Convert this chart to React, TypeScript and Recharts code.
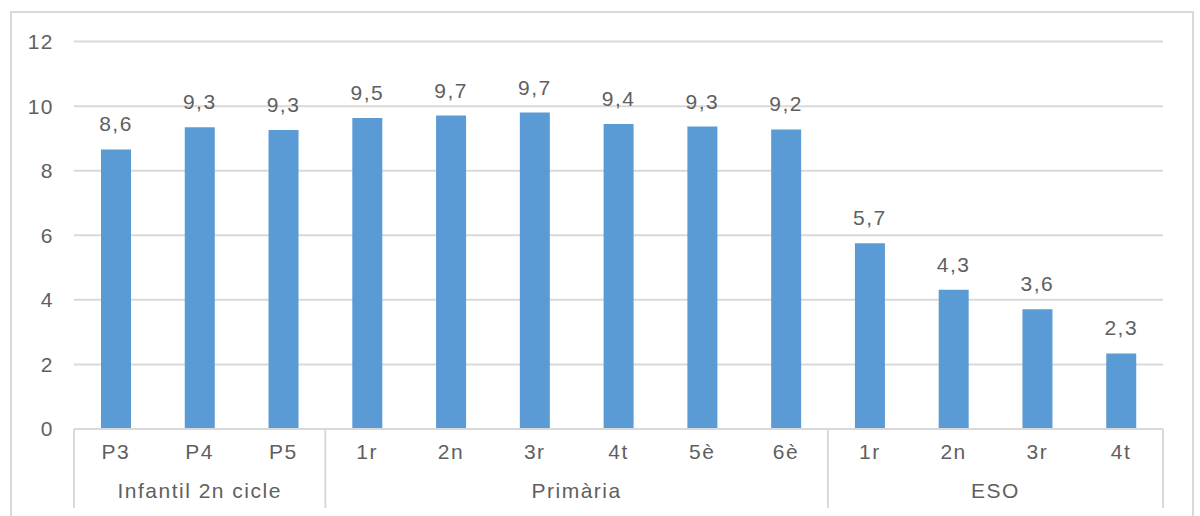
import React from 'react';
import { BarChart, Bar, XAxis, YAxis, CartesianGrid, LabelList } from 'recharts';

const categories = ['P3', 'P4', 'P5', '1r', '2n', '3r', '4t', '5è', '6è', '1r', '2n', '3r', '4t'];
const values = [8.66, 9.35, 9.26, 9.63, 9.71, 9.8, 9.45, 9.37, 9.28, 5.75, 4.31, 3.71, 2.34];
const valueLabels = ['8,6', '9,3', '9,3', '9,5', '9,7', '9,7', '9,4', '9,3', '9,2', '5,7', '4,3', '3,6', '2,3'];
const groups = ['Infantil 2n cicle', 'Primària', 'ESO'];
const groupSizes = [3, 6, 4];
const yTicks = [0, 2, 4, 6, 8, 10, 12];

const data = categories.map((c, i) => ({ key: i, name: c, value: values[i], label: valueLabels[i] }));

const PLOT_LEFT = 74;
const PLOT_RIGHT = 1163;
const BAND = (PLOT_RIGHT - PLOT_LEFT) / categories.length;
const TEXT = '#5f5f5f';
const LINE = '#d9d9d9';
const FONT = '"Liberation Sans", Arial, sans-serif';
const SPACING = 1.5;

// group start indexes
const groupStarts: number[] = [];
groupSizes.reduce((acc, n) => {
  groupStarts.push(acc);
  return acc + n;
}, 0);

const CategoryTick = (props: any) => {
  const { x, y, payload } = props;
  const idx = payload.index;
  const gi = groupStarts.indexOf(idx);
  const left = x - BAND / 2;
  return (
    <g>
      <text
        x={x}
        y={y + 14}
        textAnchor="middle"
        dominantBaseline="central"
        fill={TEXT}
        fontSize={21}
        fontFamily={FONT}
        letterSpacing={SPACING}
      >
        {categories[idx]}
      </text>
      {gi >= 0 && (
        <>
          <line x1={left} x2={left} y1={y - 8} y2={y + 71} stroke={LINE} strokeWidth={2} />
          <text
            x={left + (groupSizes[gi] * BAND) / 2}
            y={y + 53}
            textAnchor="middle"
            dominantBaseline="central"
            fill={TEXT}
            fontSize={21}
            fontFamily={FONT}
            letterSpacing={SPACING}
          >
            {groups[gi]}
          </text>
        </>
      )}
      {idx === categories.length - 1 && (
        <line x1={x + BAND / 2} x2={x + BAND / 2} y1={y - 8} y2={y + 71} stroke={LINE} strokeWidth={2} />
      )}
    </g>
  );
};

export default function App() {
  return (
    <div style={{ position: 'absolute', left: 0, top: 0, width: 1200, height: 516, background: '#fff' }}>
      <div
        style={{
          position: 'absolute',
          left: 10,
          top: 11,
          width: 1184,
          height: 520,
          border: `2px solid ${LINE}`,
          boxSizing: 'border-box',
        }}
      />
      <BarChart
        width={1200}
        height={516}
        data={data}
        margin={{ top: 41.6, right: 1200 - PLOT_RIGHT, left: 0, bottom: 0 }}
        barSize={30}
        style={{ position: 'absolute', left: 0, top: 0 }}
      >
        <CartesianGrid vertical={false} stroke={LINE} strokeWidth={2} />
        <YAxis
          width={PLOT_LEFT}
          domain={[0, 12]}
          ticks={yTicks}
          axisLine={false}
          tickLine={false}
          tickMargin={14}
          tick={{ fill: TEXT, fontSize: 21, fontFamily: FONT, letterSpacing: SPACING }}
        />
        <XAxis
          dataKey="key"
          height={87}
          interval={0}
          tickLine={false}
          axisLine={{ stroke: LINE, strokeWidth: 2 }}
          tick={<CategoryTick />}
        />
        <Bar dataKey="value" fill="#5b9bd5" isAnimationActive={false}>
          <LabelList
            dataKey="label"
            position="top"
            offset={18}
            fill={TEXT}
            fontSize={21}
            fontFamily={FONT}
            letterSpacing={SPACING}
          />
        </Bar>
      </BarChart>
    </div>
  );
}
